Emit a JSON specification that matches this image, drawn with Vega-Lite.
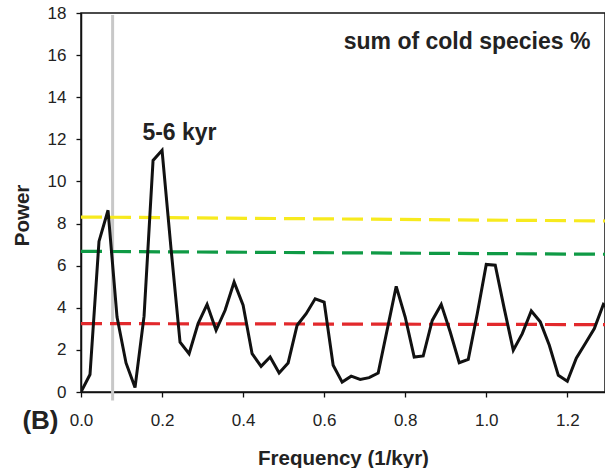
{
  "$schema": "https://vega.github.io/schema/vega-lite/v6.json",
  "autosize": "none",
  "width": 524,
  "height": 379,
  "padding": {"left": 81, "top": 13, "right": 0, "bottom": 76},
  "background": "white",
  "config": {
    "view": {"stroke": "#111", "strokeWidth": 1.5},
    "font": "Liberation Sans",
    "axis": {"grid": false, "domainColor": "#111", "domainWidth": 1.5, "tickColor": "#111", "tickWidth": 1.3, "tickSize": 5, "labelFont": "Liberation Sans", "labelFontSize": 17, "labelColor": "#222", "labelFlush": false, "titleFont": "Liberation Sans", "titleFontSize": 20.5, "titleFontWeight": "bold", "titleColor": "#222"}
  },
  "datasets": {
    "spectrum": [
      {"f": 0.0, "P": 0.0}, {"f": 0.0222, "P": 0.83}, {"f": 0.0444, "P": 7.15}, {"f": 0.0667, "P": 8.63},
      {"f": 0.0889, "P": 3.56}, {"f": 0.1111, "P": 1.38}, {"f": 0.1333, "P": 0.21}, {"f": 0.1556, "P": 3.6},
      {"f": 0.1778, "P": 11.0}, {"f": 0.2, "P": 11.48}, {"f": 0.2222, "P": 6.8}, {"f": 0.2444, "P": 2.37},
      {"f": 0.2667, "P": 1.82}, {"f": 0.2889, "P": 3.25}, {"f": 0.3111, "P": 4.16}, {"f": 0.3333, "P": 2.93},
      {"f": 0.3556, "P": 3.88}, {"f": 0.3778, "P": 5.22}, {"f": 0.4, "P": 4.12}, {"f": 0.4222, "P": 1.82},
      {"f": 0.4444, "P": 1.22}, {"f": 0.4667, "P": 1.66}, {"f": 0.4889, "P": 0.9}, {"f": 0.5111, "P": 1.38},
      {"f": 0.5333, "P": 3.17}, {"f": 0.5556, "P": 3.72}, {"f": 0.5778, "P": 4.43}, {"f": 0.6, "P": 4.27},
      {"f": 0.6222, "P": 1.27}, {"f": 0.6444, "P": 0.47}, {"f": 0.6667, "P": 0.75}, {"f": 0.6889, "P": 0.6},
      {"f": 0.7111, "P": 0.68}, {"f": 0.7333, "P": 0.9}, {"f": 0.7556, "P": 2.96}, {"f": 0.7778, "P": 5.02},
      {"f": 0.8, "P": 3.56}, {"f": 0.8222, "P": 1.66}, {"f": 0.8444, "P": 1.71}, {"f": 0.8667, "P": 3.4},
      {"f": 0.8889, "P": 4.16}, {"f": 0.9111, "P": 2.85}, {"f": 0.9333, "P": 1.39}, {"f": 0.9556, "P": 1.55},
      {"f": 0.9778, "P": 3.72}, {"f": 1.0, "P": 6.06}, {"f": 1.0222, "P": 6.02}, {"f": 1.0444, "P": 3.96},
      {"f": 1.0667, "P": 1.98}, {"f": 1.0889, "P": 2.77}, {"f": 1.1111, "P": 3.85}, {"f": 1.1333, "P": 3.33},
      {"f": 1.1556, "P": 2.22}, {"f": 1.1778, "P": 0.79}, {"f": 1.2, "P": 0.51}, {"f": 1.2222, "P": 1.61},
      {"f": 1.2444, "P": 2.3}, {"f": 1.2667, "P": 3.01}, {"f": 1.2889, "P": 4.16}, {"f": 1.3111, "P": 3.8}
    ],
    "levels": [
      {"f": 0.0, "P": 8.31, "level": "yellow"}, {"f": 1.31, "P": 8.12, "level": "yellow"},
      {"f": 0.0, "P": 6.68, "level": "green"}, {"f": 1.31, "P": 6.54, "level": "green"},
      {"f": 0.0, "P": 3.25, "level": "red"}, {"f": 1.31, "P": 3.2, "level": "red"}
    ],
    "marker": [{"f": 0.078, "top": 17.9, "bottom": -0.4}],
    "labels": [
      {"f": 0.243, "P": 12.28, "text": "5-6 kyr", "kind": "peak"},
      {"f": 1.257, "P": 16.6, "text": "sum of cold species %", "kind": "title"},
      {"f": -0.1, "P": -1.37, "text": "(B)", "kind": "panel"}
    ]
  },
  "layer": [
    {
      "data": {"name": "marker"},
      "mark": {"type": "rule", "color": "#c8c8c8", "strokeWidth": 3},
      "encoding": {
        "x": {"field": "f", "type": "quantitative", "scale": {"domain": [0, 1.293], "nice": false, "zero": false},
              "axis": {"values": [0, 0.2, 0.4, 0.6, 0.8, 1.0, 1.2], "format": ".1f", "labelPadding": 15, "title": "Frequency (1/kyr)", "titleY": 66, "titleBaseline": "middle"}},
        "y": {"field": "top", "type": "quantitative", "scale": {"domain": [0, 18], "nice": false},
              "axis": {"values": [0, 2, 4, 6, 8, 10, 12, 14, 16, 18], "labelPadding": 10, "title": "Power", "titleX": -59, "titleY": 202, "titleAngle": -90, "titleAlign": "center", "titleBaseline": "middle"}},
        "y2": {"field": "bottom"}
      }
    },
    {
      "data": {"name": "levels"},
      "mark": {"type": "line", "strokeWidth": 3.2, "strokeDash": [21, 8], "clip": true},
      "encoding": {
        "x": {"field": "f", "type": "quantitative"},
        "y": {"field": "P", "type": "quantitative"},
        "detail": {"field": "level"},
        "color": {"field": "level", "type": "nominal", "scale": {"domain": ["yellow", "green", "red"], "range": ["#f7ea1e", "#0f9a45", "#e2292c"]}, "legend": null}
      }
    },
    {
      "data": {"name": "spectrum"},
      "mark": {"type": "line", "color": "#111", "strokeWidth": 3, "strokeJoin": "miter", "clip": true},
      "encoding": {
        "x": {"field": "f", "type": "quantitative"},
        "y": {"field": "P", "type": "quantitative"}
      }
    },
    {
      "data": {"name": "labels"},
      "transform": [{"filter": "datum.kind === 'peak'"}],
      "mark": {"type": "text", "font": "Liberation Sans", "fontWeight": "bold", "fontSize": 23, "color": "#222", "align": "center", "baseline": "middle"},
      "encoding": {
        "x": {"field": "f", "type": "quantitative"},
        "y": {"field": "P", "type": "quantitative"},
        "text": {"field": "text"}
      }
    },
    {
      "data": {"name": "labels"},
      "transform": [{"filter": "datum.kind === 'title'"}],
      "mark": {"type": "text", "font": "Liberation Sans", "fontWeight": "bold", "fontSize": 23, "color": "#222", "align": "right", "baseline": "middle"},
      "encoding": {
        "x": {"field": "f", "type": "quantitative"},
        "y": {"field": "P", "type": "quantitative"},
        "text": {"field": "text"}
      }
    },
    {
      "data": {"name": "labels"},
      "transform": [{"filter": "datum.kind === 'panel'"}],
      "mark": {"type": "text", "font": "Liberation Sans", "fontWeight": "bold", "fontSize": 26, "color": "#222", "align": "center", "baseline": "middle"},
      "encoding": {
        "x": {"field": "f", "type": "quantitative"},
        "y": {"field": "P", "type": "quantitative"},
        "text": {"field": "text"}
      }
    }
  ]
}
